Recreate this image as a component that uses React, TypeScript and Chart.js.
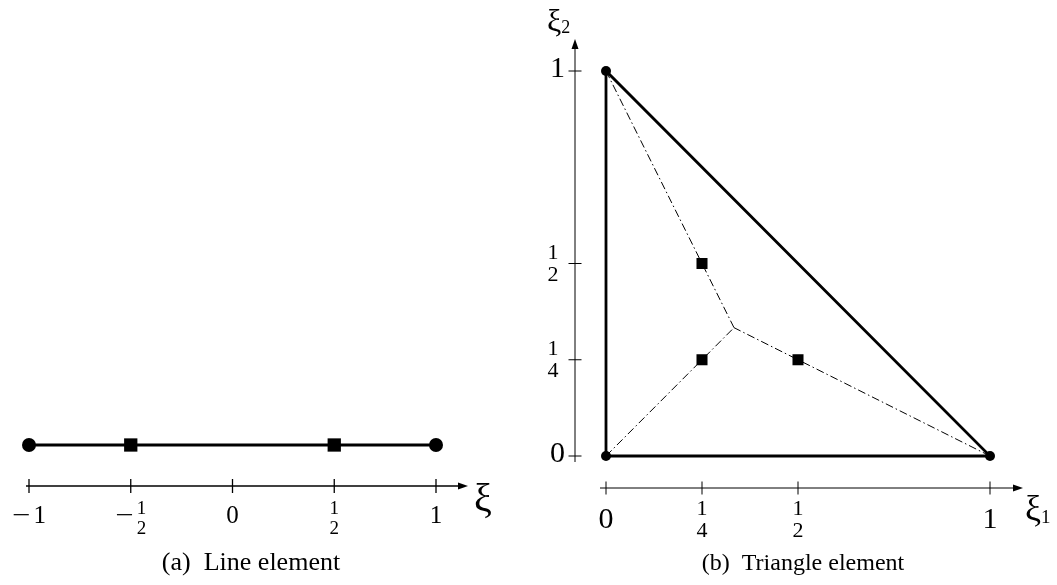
import React, { useEffect, useRef } from "react";
import { Chart, registerables } from "chart.js";
Chart.register(...registerables);

// ---------------- data ----------------
// (a) Line element (1D reference element on [-1, 1])
const lineNodeX = [-1, 1];
const lineGaussX = [-0.5, 0.5];
const lineY = 0;
const lineTicks = [-1, -0.5, 0, 0.5, 1];
const lineTickLabels = ["−1", "−1/2", "0", "1/2", "1"];

// (b) Triangle element
const triVertexX = [0, 1, 0];
const triVertexY = [0, 0, 1];
const triGaussX = [0.25, 0.5, 0.25];
const triGaussY = [0.25, 0.25, 0.5];
const triCentroid = [1 / 3, 1 / 3];
const triTicksX = [0, 0.25, 0.5, 1];
const triTickLabelsX = ["0", "1/4", "1/2", "1"];
const triTicksY = [0, 0.25, 0.5, 1];
const triTickLabelsY = ["0", "1/4", "1/2", "1"];

const captions = ["(a)  Line element", "(b)  Triangle element"];
const axisNames = ["ξ", "ξ", "ξ"];
const axisSubs = ["", "1", "2"];

// ---------------- layout / style ----------------
const W = 1057;
const H = 585;
const SERIF = '"Liberation Serif", "Times New Roman", serif';

function arrowHead(ctx: CanvasRenderingContext2D, x: number, y: number, dir: "right" | "up") {
  ctx.beginPath();
  if (dir === "right") {
    ctx.moveTo(x, y);
    ctx.lineTo(x - 10, y - 3.5);
    ctx.lineTo(x - 10, y + 3.5);
  } else {
    ctx.moveTo(x, y);
    ctx.lineTo(x - 3.5, y + 10);
    ctx.lineTo(x + 3.5, y + 10);
  }
  ctx.closePath();
  ctx.fill();
}

function drawFrac(ctx: CanvasRenderingContext2D, num: string, den: string, cx: number, c: number, size: number) {
  ctx.font = `${size}px ${SERIF}`;
  ctx.textAlign = "center";
  ctx.textBaseline = "alphabetic";
  ctx.fillText(num, cx, c - 3.5);
  ctx.fillText(den, cx, c + 3.5 + 0.68 * size);
}

const MINUS_STRETCH = 1.3;

// label centred horizontally at x (x-axis labels)
function drawXLabel(
  ctx: CanvasRenderingContext2D,
  label: string,
  x: number,
  intBase: number,
  fracC: number,
  intSize: number,
  fracSize: number
) {
  let sign = "";
  let body = label;
  if (body.startsWith("−")) {
    sign = "−";
    body = body.slice(1);
  }
  const isFrac = body.includes("/");
  let bw: number;
  let n = "";
  let d = "";
  if (isFrac) {
    [n, d] = body.split("/");
    ctx.font = `${fracSize}px ${SERIF}`;
    bw = Math.max(ctx.measureText(n).width, ctx.measureText(d).width);
  } else {
    ctx.font = `${intSize}px ${SERIF}`;
    bw = ctx.measureText(body).width;
  }
  ctx.font = `${intSize}px ${SERIF}`;
  const sw = sign ? ctx.measureText(sign).width * MINUS_STRETCH + 3 : 0;
  const left = x - (sw + bw) / 2;
  ctx.textBaseline = "alphabetic";
  if (sign) {
    ctx.save();
    ctx.translate(left, intBase);
    ctx.scale(MINUS_STRETCH, 1);
    ctx.textAlign = "left";
    ctx.fillText(sign, 0, 0);
    ctx.restore();
  }
  if (isFrac) {
    drawFrac(ctx, n, d, left + sw + bw / 2, fracC, fracSize);
  } else {
    ctx.font = `${intSize}px ${SERIF}`;
    ctx.textAlign = "left";
    ctx.fillText(body, left + sw, intBase);
  }
}

const axesPlugin = {
  id: "refAxes",
  afterDatasetsDraw(chart: any) {
    const ctx: CanvasRenderingContext2D = chart.ctx;
    const xa = chart.scales.xa;
    const ya = chart.scales.ya;
    const xb = chart.scales.xb;
    const yb = chart.scales.yb;
    ctx.save();
    ctx.fillStyle = "#000";
    ctx.strokeStyle = "#000";

    // ----- (a) axis -----
    const ayAxis = ya.getPixelForValue(lineY) + 41;
    const aStart = xa.getPixelForValue(lineTicks[0]) - 3;
    const aTip = xa.getPixelForValue(lineTicks[lineTicks.length - 1]) + 32;
    ctx.lineWidth = 1.3;
    ctx.beginPath();
    ctx.moveTo(aStart, ayAxis);
    ctx.lineTo(aTip - 6, ayAxis);
    ctx.stroke();
    arrowHead(ctx, aTip, ayAxis, "right");
    lineTicks.forEach((t, i) => {
      const px = xa.getPixelForValue(t);
      ctx.beginPath();
      ctx.moveTo(px, ayAxis - 7);
      ctx.lineTo(px, ayAxis + 7);
      ctx.stroke();
      drawXLabel(ctx, lineTickLabels[i], px, ayAxis + 37, ayAxis + 31.5, 25, 19);
    });
    ctx.font = `40px ${SERIF}`;
    ctx.textAlign = "left";
    ctx.textBaseline = "alphabetic";
    ctx.fillText(axisNames[0], aTip + 6, ayAxis + 25);

    // ----- (b) x axis -----
    const bxAxisY = yb.getPixelForValue(0) + 32;
    const bStart = xb.getPixelForValue(triTicksX[0]) - 6;
    const bTip = xb.getPixelForValue(triTicksX[triTicksX.length - 1]) + 33;
    ctx.lineWidth = 1;
    ctx.beginPath();
    ctx.moveTo(bStart, bxAxisY);
    ctx.lineTo(bTip - 6, bxAxisY);
    ctx.stroke();
    arrowHead(ctx, bTip, bxAxisY, "right");
    triTicksX.forEach((t, i) => {
      const px = xb.getPixelForValue(t);
      ctx.beginPath();
      ctx.moveTo(px, bxAxisY - 6.5);
      ctx.lineTo(px, bxAxisY + 6.5);
      ctx.stroke();
      drawXLabel(ctx, triTickLabelsX[i], px, bxAxisY + 40, bxAxisY + 30.5, 30, 22);
    });
    ctx.font = `36px ${SERIF}`;
    ctx.textAlign = "left";
    ctx.fillText(axisNames[1], bTip + 2, bxAxisY + 32);
    const w1 = ctx.measureText(axisNames[1]).width;
    ctx.font = `19px ${SERIF}`;
    ctx.fillText(axisSubs[1], bTip + 2 + w1, bxAxisY + 35);

    // ----- (b) y axis -----
    const byAxisX = xb.getPixelForValue(0) - 31;
    const byStart = yb.getPixelForValue(triTicksY[0]) + 6;
    const byTip = yb.getPixelForValue(triTicksY[triTicksY.length - 1]) - 32;
    ctx.beginPath();
    ctx.moveTo(byAxisX, byStart);
    ctx.lineTo(byAxisX, byTip + 6);
    ctx.stroke();
    arrowHead(ctx, byAxisX, byTip, "up");
    triTicksY.forEach((t, i) => {
      const py = yb.getPixelForValue(t);
      ctx.beginPath();
      ctx.moveTo(byAxisX - 6.5, py);
      ctx.lineTo(byAxisX + 6.5, py);
      ctx.stroke();
      const lab = triTickLabelsY[i];
      if (lab.includes("/")) {
        const [n, d] = lab.split("/");
        drawFrac(ctx, n, d, byAxisX - 22, py - 1, 22);
      } else {
        ctx.font = `30px ${SERIF}`;
        ctx.textAlign = "right";
        ctx.textBaseline = "alphabetic";
        ctx.fillText(lab, byAxisX - 10, py + 6);
      }
    });
    ctx.font = `32px ${SERIF}`;
    ctx.textAlign = "left";
    ctx.fillText(axisNames[2], byAxisX - 28, byTip - 8);
    const w2 = ctx.measureText(axisNames[2]).width;
    ctx.font = `18px ${SERIF}`;
    ctx.fillText(axisSubs[2], byAxisX - 28 + w2, byTip - 6);

    // ----- captions -----
    ctx.textAlign = "center";
    ctx.textBaseline = "alphabetic";
    ctx.font = `26px ${SERIF}`;
    ctx.fillText(captions[0], 251, 570);
    ctx.font = `24px ${SERIF}`;
    ctx.fillText(captions[1], 803, 570);
    ctx.restore();
  },
};

const pts = (xs: number[], ys: number[]) => xs.map((x, i) => ({ x, y: ys[i] }));

export default function App() {
  const ref = useRef<HTMLCanvasElement>(null);
  useEffect(() => {
    if (!ref.current) return;
    const verts = pts(triVertexX, triVertexY);
    const gauss = pts(triGaussX, triGaussY);
    const cen = { x: triCentroid[0], y: triCentroid[1] };
    const dashSets = verts.map((v, i) => ({
      label: "split" + i,
      data: [v, gauss[i], cen],
      xAxisID: "xb",
      yAxisID: "yb",
      showLine: true,
      borderColor: "#000",
      borderWidth: 1,
      borderDash: [8, 3, 1.5, 3],
      pointRadius: 0,
      order: 3,
    }));
    const chart = new Chart(ref.current, {
      type: "scatter",
      data: {
        datasets: [
          {
            label: "line element",
            data: lineNodeX.map((x) => ({ x, y: lineY })),
            xAxisID: "xa",
            yAxisID: "ya",
            showLine: true,
            borderColor: "#000",
            borderWidth: 2.8,
            pointRadius: 0,
            order: 2,
          },
          {
            label: "line nodes",
            data: lineNodeX.map((x) => ({ x, y: lineY })),
            xAxisID: "xa",
            yAxisID: "ya",
            pointStyle: "circle",
            pointRadius: 7,
            backgroundColor: "#000",
            borderWidth: 0,
            order: 0,
          },
          {
            label: "line gauss",
            data: lineGaussX.map((x) => ({ x, y: lineY })),
            xAxisID: "xa",
            yAxisID: "ya",
            pointStyle: "rect",
            pointRadius: 9.4,
            backgroundColor: "#000",
            borderWidth: 0,
            order: 0,
          },
          {
            label: "triangle",
            data: [...verts, verts[0]],
            xAxisID: "xb",
            yAxisID: "yb",
            showLine: true,
            borderColor: "#000",
            borderWidth: 2.8,
            borderJoinStyle: "miter",
            pointRadius: 0,
            order: 2,
          },
          ...dashSets,
          {
            label: "triangle nodes",
            data: verts,
            xAxisID: "xb",
            yAxisID: "yb",
            pointStyle: "circle",
            pointRadius: 5,
            backgroundColor: "#000",
            borderWidth: 0,
            order: 0,
          },
          {
            label: "triangle gauss",
            data: gauss,
            xAxisID: "xb",
            yAxisID: "yb",
            pointStyle: "rect",
            pointRadius: 7.8,
            backgroundColor: "#000",
            borderWidth: 0,
            order: 0,
          },
        ] as any,
      },
      options: {
        animation: false,
        responsive: false,
        devicePixelRatio: 1,
        events: [],
        layout: { padding: 0, autoPadding: false },
        plugins: { legend: { display: false }, tooltip: { enabled: false } },
        scales: {
          xa: { type: "linear", position: "bottom", display: false, min: -1 - 29 / 203.5, max: -1 + (W - 29) / 203.5 },
          ya: { type: "linear", position: "left", display: false, min: 4.45 - H / 100, max: 4.45 },
          xb: { type: "linear", position: "bottom", display: false, min: -606 / 384, max: (W - 606) / 384 },
          yb: { type: "linear", position: "left", display: false, min: (456 - H) / 385, max: 456 / 385 },
        },
      } as any,
      plugins: [axesPlugin],
    });
    return () => chart.destroy();
  }, []);
  return (
    <div style={{ position: "absolute", left: 0, top: 0, width: W, height: H, background: "#fff" }}>
      <canvas ref={ref} width={W} height={H} style={{ width: W, height: H, display: "block" }} />
    </div>
  );
}
